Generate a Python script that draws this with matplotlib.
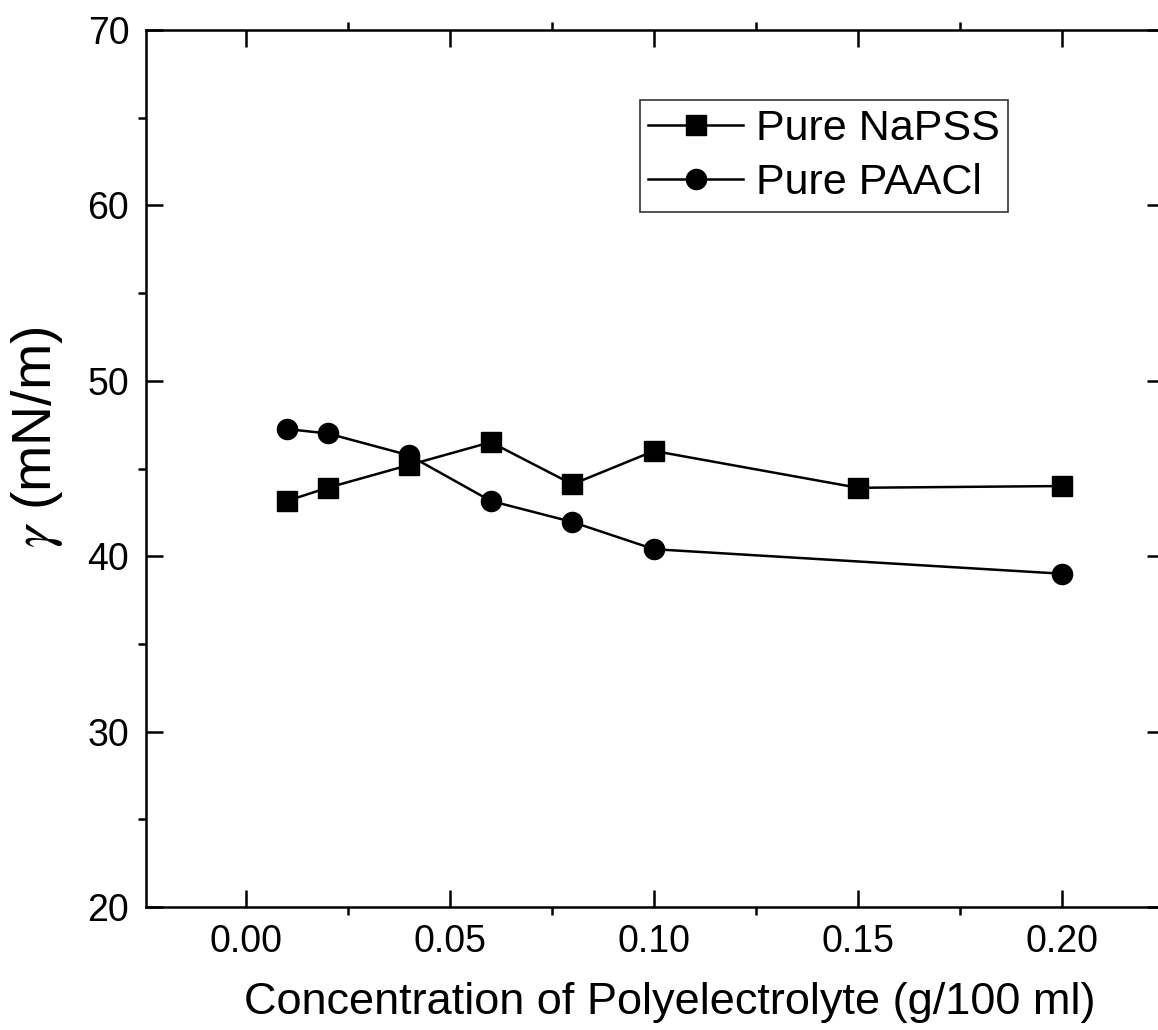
import matplotlib
matplotlib.use('Agg')
import matplotlib.pyplot as plt
from matplotlib.ticker import MultipleLocator

plt.rcParams['font.family'] = ['Liberation Sans', 'DejaVu Sans']
plt.rcParams['mathtext.fontset'] = 'stix'

# Surface tension vs. polyelectrolyte concentration
conc_napss = [0.01, 0.02, 0.04, 0.06, 0.08, 0.10, 0.15, 0.20]
gamma_napss = [43.15, 43.9, 45.2, 46.5, 44.1, 46.0, 43.9, 44.0]

conc_paacl = [0.01, 0.02, 0.04, 0.06, 0.08, 0.10, 0.20]
gamma_paacl = [47.25, 47.0, 45.75, 43.15, 41.95, 40.4, 39.0]

fig = plt.figure(figsize=(11.58, 10.30), dpi=100)
ax = fig.add_axes([146 / 1158, 1 - 907 / 1030, (1164 - 146) / 1158, (907 - 30) / 1030])

ax.plot(conc_napss, gamma_napss, color='black', lw=1.8, marker='s', ms=14,
        label='Pure NaPSS', zorder=3)
ax.plot(conc_paacl, gamma_paacl, color='black', lw=1.8, marker='o', ms=14.5,
        label='Pure PAACl', zorder=2)

ax.set_xlim(-0.0245, 0.225)
ax.set_ylim(20, 70)
ax.xaxis.set_minor_locator(MultipleLocator(0.025))
ax.yaxis.set_major_locator(MultipleLocator(10))
ax.yaxis.set_minor_locator(MultipleLocator(5))
ax.set_xticks([0.0, 0.05, 0.10, 0.15, 0.20])
ax.set_xticklabels(['0.00', '0.05', '0.10', '0.15', '0.20'])

ax.tick_params(which='major', direction='in', length=12, width=1.8,
               top=True, right=True, labelsize=27, pad=12)
ax.tick_params(which='minor', direction='out', length=6, width=1.8,
               top=True, right=True)
for s in ax.spines.values():
    s.set_linewidth(1.8)

ax.set_xlabel('Concentration of Polyelectrolyte (g/100 ml)', fontsize=32.5)
ax.set_ylabel(r'$\gamma$ (mN/m)', fontsize=40)
ax.xaxis.set_label_coords(0.514, -0.086)
ax.yaxis.set_label_coords(-0.080, 0.536)

leg = ax.legend(loc='upper left', bbox_to_anchor=(0.485, 0.92), fontsize=31,
                frameon=True, fancybox=False, edgecolor='black', handlelength=2.2,
                handletextpad=0.3, borderpad=0.2, labelspacing=0.33, borderaxespad=0)
leg.get_frame().set_linewidth(1.2)

fig.savefig('out.png', dpi=100)
